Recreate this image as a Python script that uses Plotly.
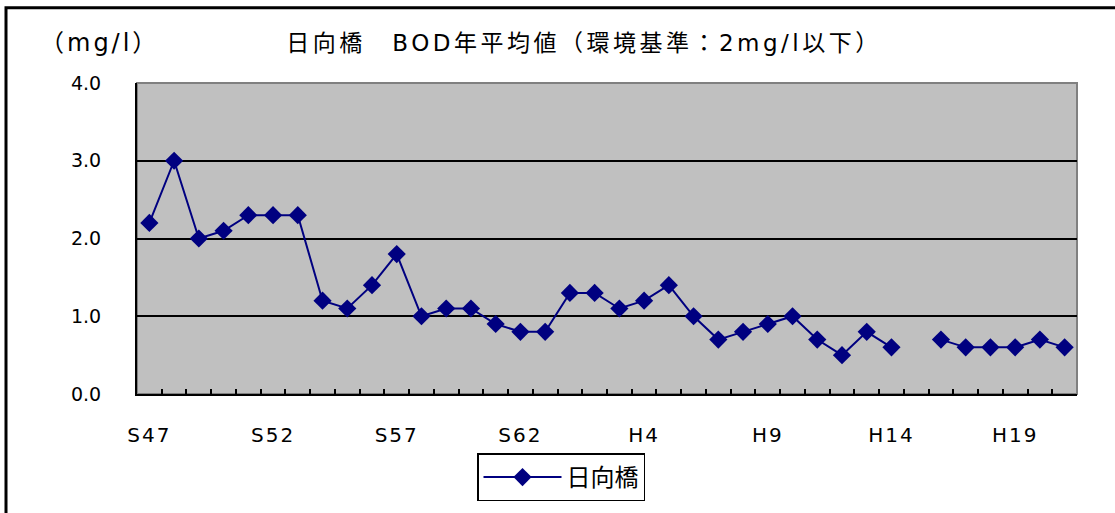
import plotly.graph_objects as go

years = ["S47","S48","S49","S50","S51","S52","S53","S54","S55","S56","S57","S58","S59","S60","S61","S62","S63",
         "H1","H2","H3","H4","H5","H6","H7","H8","H9","H10","H11","H12","H13","H14","H15","H16","H17","H18","H19","H20","H21"]
bod = [2.2,3.0,2.0,2.1,2.3,2.3,2.3,1.2,1.1,1.4,1.8,1.0,1.1,1.1,0.9,0.8,0.8,
       1.3,1.3,1.1,1.2,1.4,1.0,0.7,0.8,0.9,1.0,0.7,0.5,0.8,0.6,None,0.7,0.6,0.6,0.6,0.7,0.6]
label_years = ["S47","S52","S57","S62","H4","H9","H14","H19"]
y_ticks = [0, 1, 2, 3, 4]
y_ticktext = ["0.0", "1.0", "2.0", "3.0", "4.0"]

idx = list(range(len(years)))
label_idx = [years.index(y) for y in label_years]

FONT = "DejaVu Sans, Noto Sans CJK JP, sans-serif"
CJK = "DejaVu Sans, Noto Sans CJK JP, sans-serif"

fig = go.Figure()
fig.add_trace(go.Scatter(
    x=idx, y=bod, mode="lines+markers", name="日向橋",
    line=dict(color="#000080", width=2),
    marker=dict(symbol="diamond", size=14, color="#000080"),
    connectgaps=False,
))

W, H = 1115, 513
L, R, T, B = 137, 38, 83, 116
pw, ph = W - L - R, H - T - B

fig.update_layout(
    width=W, height=H,
    margin=dict(l=L, r=R, t=T, b=B),
    paper_bgcolor="white", plot_bgcolor="#C0C0C0",
    font=dict(family=FONT, color="black", size=18),
    title=dict(text="日向橋　BOD年平均値（環境基準：2mg/l以下）",
               font=dict(family=CJK, size=23, color="black"),
               x=(584 - L) / pw, xref="paper", xanchor="center",
               y=1 - 43 / H, yref="container", yanchor="middle"),
    showlegend=True,
    legend=dict(x=(477 - L) / pw, y=(397 - 457) / ph, xanchor="left", yanchor="top",
                orientation="h", bordercolor="black", borderwidth=1.5, bgcolor="white",
                itemwidth=78,
                font=dict(family="Noto Sans CJK JP, sans-serif", size=24, color="black")),
    xaxis=dict(range=[-0.5, len(years) - 0.5], tickmode="array", tickvals=label_idx, ticktext=label_years,
               ticks="", showgrid=False, zeroline=False, showline=True, linecolor="black", linewidth=2,
               ticklabelstandoff=22, tickfont=dict(size=20),
               minor=dict(tickvals=[i - 0.5 for i in range(1, len(years))], ticks="inside", ticklen=5,
                          tickcolor="black", tickwidth=1.5, showgrid=False)),
    yaxis=dict(range=[0, 4], tickmode="array", tickvals=y_ticks, ticktext=y_ticktext,
               ticks="inside", ticklen=5, tickcolor="black", showgrid=False, zeroline=False,
               showline=True, linecolor="black", linewidth=2, ticklabelstandoff=30,
               tickfont=dict(size=19),
               minor=dict(tickvals=[1, 2, 3], showgrid=True, gridcolor="black", gridwidth=1.5)),
    shapes=[
        dict(type="rect", xref="paper", yref="paper", x0=0, x1=1, y0=0, y1=1,
             line=dict(color="#808080", width=2), layer="below"),
        dict(type="rect", xref="paper", yref="paper", x0=(6 - L) / pw, x1=(1130 - L) / pw,
             y0=-0.6, y1=(397 - 7) / ph, line=dict(color="black", width=3)),
    ],
    annotations=[
        dict(text="（mg/l）", xref="paper", yref="paper", x=(99 - L) / pw, y=(397 - 43) / ph,
             xanchor="center", yanchor="middle", showarrow=False,
             font=dict(family=CJK, size=24, color="black")),
    ],
)

post = """
document.body.style.margin = '0';
document.querySelectorAll('.xtick text').forEach(function(t){ t.setAttribute('letter-spacing', '2px'); });
document.querySelectorAll('.gtitle').forEach(function(t){ t.setAttribute('letter-spacing', '3.5px'); });
document.querySelectorAll('.annotation-text').forEach(function(t){ t.setAttribute('letter-spacing', '3px'); });
"""
fig.write_html("out.html", post_script=post, config={"displayModeBar": False})
